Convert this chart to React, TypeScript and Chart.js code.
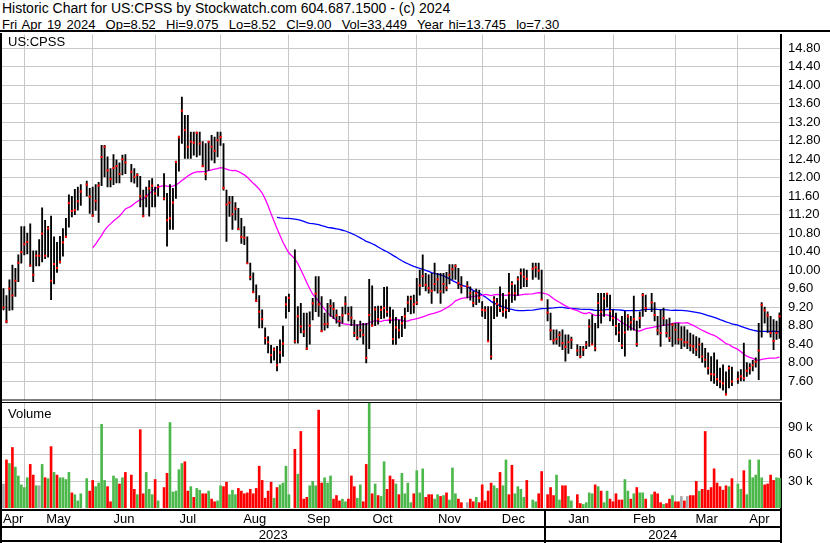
import React, { useEffect, useRef } from 'react';
import { Chart, registerables } from 'chart.js';

Chart.register(...registerables);

const FONT = "'Liberation Sans', Arial, Helvetica, sans-serif";
Chart.defaults.font.family = FONT;

// ---------------- data ----------------
const firstDay = '2023-04-20';
const lastDay = '2024-04-19';

// one entry per weekday; null = market holiday
const highs: (number | null)[] = [
  // Apr 2023
  9.60, 9.45, 9.79, 10.11, 10.04, 10.33, 10.94,
  // May
  10.94, 10.80, 11.00, 10.42, 10.42, 10.66, 11.35, 11.08, 10.95, 11.17, 10.72, 10.60, 10.73, 10.90, 11.12, 11.63, 11.60, 11.75, 11.80, 11.85, null, 11.93, 11.77,
  // Jun
  11.80, 11.85, 11.90, 12.70, 12.70, 12.45, 12.20, 12.50, 12.39, 12.32, 12.49, 12.50, null, 12.29, 12.20, 12.09, 12.03, 11.73, 11.80, 11.94, 11.98, 11.80,
  // Jul
  11.85, null, 12.09, 11.66, 11.85, 11.77, 12.36, 12.90, 13.745, 13.35, 13.35, 12.99, 12.99, 12.99, 12.99, 12.78, 12.74, 12.78, 12.92, 12.88, 12.99,
  // Aug
  12.99, 12.74, 11.73, 11.60, 11.60, 11.46, 11.34, 11.12, 10.94, 10.72, 10.15, 9.94, 9.68, 9.45, 9.14, 8.75, 8.56, 8.37, 8.32, 8.35, 8.49, 8.79, 9.43,
  // Sep
  9.48, null, 10.44, 9.21, 9.28, 9.07, 9.07, 9.10, 9.39, 9.86, 9.86, 9.43, 9.07, 9.28, 9.36, 9.30, 9.14, 9.00, 9.20, 9.43, 9.20,
  // Oct
  9.21, 8.92, 8.82, 8.90, 8.85, 8.85, 9.80, 9.66, 9.21, 9.22, 9.22, 9.63, 9.64, 9.20, 9.14, 8.98, 8.92, 9.00, 9.18, 9.44, 9.44, 9.46,
  // Nov
  9.82, 10.00, 10.33, 9.93, 9.90, 9.93, 10.15, 9.93, 9.93, 9.93, 9.95, 10.12, 10.12, 10.12, 10.04, 9.86, null, 9.75, 9.64, 9.54, 9.59, 9.57,
  // Dec
  9.32, 9.21, 9.21, 9.21, 9.43, 9.39, 9.64, 9.50, 9.36, 9.93, 9.75, 9.68, 9.86, 10.03, 10.03, 10.00, null, 10.15, 10.15, 10.15, 10.00,
  // Jan 2024
  null, 9.36, 9.07, 8.71, 8.71, 8.67, 8.71, 8.60, 8.60, 8.55, null, 8.39, 8.35, 8.35, 8.46, 8.93, 9.03, 8.85, 9.50, 9.50, 9.50, 9.50, 9.46,
  // Feb
  9.14, 9.07, 8.85, 9.00, 9.11, 9.04, 9.00, 9.44, 8.90, 9.10, 9.50, 9.46, null, 9.50, 9.30, 9.00, 9.14, 9.18, 8.93, 8.96, 8.85,
  // Mar
  8.85, 8.85, 8.78, 8.78, 8.71, 8.64, 8.60, 8.56, 8.53, 8.42, 8.31, 8.21, 8.13, 8.21, 8.06, 7.88, 7.95, 7.80, 7.93, 7.90, null,
  // Apr
  7.80, 7.85, 8.42, 8.00, 7.98, 8.05, 8.10, 8.85, 9.30, 9.20, 9.10, 9.00, 8.93, 8.90, 9.075,
];

const lows: (number | null)[] = [
  9.14, 8.86, 9.13, 9.14, 9.43, 9.75, 10.15,
  10.33, 10.35, 10.08, 9.75, 10.09, 10.09, 10.18, 10.25, 10.28, 9.36, 9.70, 9.95, 10.15, 10.30, 10.70, 10.93, 11.15, 11.20, 11.30, 11.40, null, 11.60, 11.23,
  11.16, 11.29, 11.03, 11.83, 12.02, 11.80, 11.80, 11.85, 11.89, 11.89, 12.06, 12.09, null, 11.91, 11.88, 11.80, 11.37, 11.17, 11.37, 11.17, 11.37, 11.37,
  11.60, null, 11.52, 10.52, 10.88, 10.88, 11.55, 12.14, 12.74, 12.42, 12.42, 12.42, 12.49, 12.45, 12.49, 12.24, 11.95, 12.16, 12.38, 12.32, 12.45,
  12.70, 11.73, 10.62, 11.16, 10.88, 11.08, 10.87, 10.58, 10.55, 10.15, 9.79, 9.51, 9.32, 8.75, 8.75, 8.40, 8.21, 7.99, 8.05, 7.82, 7.99, 8.13, 8.96,
  9.10, null, 8.42, 8.42, 8.64, 8.56, 8.28, 8.40, 8.92, 9.10, 9.00, 8.67, 8.70, 8.75, 9.00, 8.95, 8.85, 8.78, 8.85, 9.05, 8.90,
  8.80, 8.56, 8.49, 8.55, 8.40, 7.99, 8.30, 8.79, 8.80, 8.83, 8.95, 8.96, 9.00, 8.85, 8.39, 8.39, 8.53, 8.56, 8.74, 9.10, 9.05, 9.07,
  9.25, 9.46, 9.64, 9.55, 9.50, 9.28, 9.55, 9.50, 9.28, 9.50, 9.55, 9.70, 9.80, 9.80, 9.60, 9.50, null, 9.40, 9.35, 9.21, 9.25, 9.30,
  9.00, 8.95, 8.46, 8.07, 8.95, 9.00, 9.10, 9.00, 8.96, 9.10, 9.30, 9.35, 9.45, 9.60, 9.64, 9.64, null, 9.80, 9.85, 9.80, 9.36,
  null, 8.90, 8.49, 8.40, 8.40, 8.35, 8.28, 8.03, 8.20, 8.30, null, 8.15, 8.10, 8.15, 8.30, 8.35, 8.39, 8.25, 8.75, 8.85, 9.00, 9.20, 8.90,
  8.80, 8.60, 8.45, 8.30, 8.14, 8.70, 8.70, 8.70, 8.35, 8.75, 9.00, 9.10, null, 9.10, 8.90, 8.60, 8.35, 8.80, 8.55, 8.45, 8.35,
  8.40, 8.40, 8.30, 8.35, 8.30, 8.25, 8.20, 8.15, 8.10, 8.00, 7.90, 7.75, 7.60, 7.55, 7.50, 7.45, 7.40, 7.30, 7.45, 7.50, null,
  7.55, 7.60, 7.60, 7.70, 7.75, 7.82, 7.90, 7.63, 8.55, 8.85, 8.65, 8.55, 8.28, 8.50, 8.52,
];

const closes: (number | null)[] = [
  9.19, 8.89, 9.60, 9.45, 9.77, 10.16, 10.39,
  10.56, 10.61, 10.10, 9.90, 10.31, 10.31, 10.79, 10.31, 10.90, 9.77, 10.13, 10.05, 10.18, 10.60, 10.72, 11.45, 11.28, 11.30, 11.49, 11.70, null, 11.85, 11.59,
  11.18, 11.50, 11.83, 12.45, 12.67, 12.16, 11.97, 12.21, 12.25, 12.08, 12.40, 12.33, null, 12.13, 12.02, 12.06, 11.60, 11.17, 11.60, 11.77, 11.83, 11.66,
  11.80, null, 11.55, 11.08, 11.12, 11.46, 12.34, 12.88, 13.45, 13.03, 12.67, 12.78, 12.76, 12.97, 12.74, 12.25, 12.08, 12.78, 12.67, 12.58, 12.81,
  12.88, 11.78, 11.42, 11.46, 11.21, 11.33, 10.89, 10.72, 10.70, 10.15, 9.85, 9.52, 9.34, 9.10, 8.94, 8.53, 8.44, 8.16, 8.28, 7.94, 8.22, 8.41, 9.26,
  9.40, null, 8.46, 9.00, 8.78, 8.67, 8.30, 8.80, 9.28, 9.49, 9.26, 8.68, 8.83, 8.84, 9.22, 9.16, 9.02, 8.90, 9.02, 9.27, 9.05,
  8.97, 8.64, 8.54, 8.70, 8.60, 8.10, 9.03, 8.80, 9.15, 8.94, 9.14, 9.18, 9.10, 8.95, 8.51, 8.76, 8.70, 8.85, 9.00, 9.30, 9.38, 9.26,
  9.30, 9.67, 9.87, 9.68, 9.61, 9.55, 9.70, 9.80, 9.54, 9.70, 9.62, 9.90, 10.02, 10.09, 9.72, 9.65, null, 9.65, 9.50, 9.29, 9.50, 9.40,
  9.14, 9.13, 8.46, 8.13, 9.36, 9.27, 9.18, 9.10, 9.14, 9.50, 9.70, 9.50, 9.80, 9.93, 9.86, 9.81, null, 10.03, 10.06, 9.99, 9.36,
  null, 9.08, 8.70, 8.48, 8.51, 8.60, 8.42, 8.34, 8.44, 8.49, null, 8.26, 8.13, 8.28, 8.39, 8.78, 8.39, 8.31, 9.29, 9.10, 9.39, 9.49, 9.11,
  8.96, 8.79, 8.65, 8.37, 8.65, 9.00, 8.87, 8.94, 8.40, 8.96, 9.46, 9.18, null, 9.30, 9.03, 8.70, 8.64, 8.96, 8.64, 8.53, 8.82,
  8.71, 8.50, 8.50, 8.44, 8.44, 8.37, 8.35, 8.28, 8.39, 8.13, 8.06, 7.88, 7.75, 7.74, 7.64, 7.59, 7.55, 7.31, 7.88, 7.59, null,
  7.64, 7.70, 7.66, 7.82, 7.88, 7.94, 8.02, 8.26, 9.25, 9.13, 9.02, 8.64, 8.47, 8.64, 9.00,
];

const volumes: (number | null)[] = [
  27000, 54000, 50000, 68000, 46000, 36000, 26000,
  23000, 34000, 49000, 37000, 25000, 25000, 49000, 34000, 33000, 69000, 40000, 37000, 34000, 34000, 32000, 40000, 17000, 15000, 8000, 16000, null, 33000, 19000,
  31000, 24000, 28000, 94000, 31000, 24000, 7000, 36000, 33000, 27000, 34000, 40000, null, 37000, 21000, 15000, 88000, 16000, 40000, 21000, 15000, 32000,
  8000, null, 23000, 39000, 96000, 18000, 19000, 43000, 50000, 52000, 19000, 24000, 12000, 22000, 20000, 16000, 16000, 19000, 10000, 7000, 8000,
  25000, 24000, 29000, 15000, 20000, 15000, 22000, 19000, 16000, 17000, 21000, 16000, 22000, 47000, 31000, 11000, 19000, 29000, 11000, 23000, 26000, 28000, 47000,
  15000, null, 66000, 38000, 86000, 10000, 12000, 25000, 30000, 25000, 110000, 28000, 34000, 28000, 36000, 10000, 14000, 8000, 10000, 7000, 10000,
  36000, 24000, 11000, 26000, 7000, 49000, 119000, 16000, 27000, 14000, 13000, 52000, 21000, 36000, 32000, 27000, 15000, 39000, 16000, 28000, 6000, 16000,
  42000, 17000, 44000, 12000, 15000, 15000, 10000, 15000, 13000, 14000, 17000, 9000, 45000, 16000, 10000, 6000, null, 6000, 10000, 7000, 12000, 6000,
  26000, 8000, 19000, 28000, 25000, 22000, 40000, 25000, 54000, 15000, 48000, 16000, 24000, 21000, 12000, 31000, null, 9000, 7000, 16000, 41000,
  null, 15000, 23000, 14000, 37000, 9000, 25000, 25000, 13000, 8000, null, 15000, 5000, 4000, 6000, 17000, 16000, 26000, 24000, 19000, 6000, 19000, 10000,
  7000, 16000, 9000, 9000, 32000, 19000, 10000, 16000, 23000, 17000, 17000, 10000, null, 15000, 18000, 16000, 6000, 4000, 5000, 10000, 14000,
  7000, 7000, 13000, 8000, 13000, 14000, 14000, 30000, 19000, 21000, 86000, 20000, 23000, 44000, 28000, 24000, 20000, 25000, 24000, 33000, null,
  27000, 21000, 42000, 15000, 54000, 34000, 37000, 54000, 34000, 26000, 27000, 37000, 31000, 34000, 33449,
];

// u = close up, d = close down, n = unchanged, - = holiday
const volumeDirection: string[] = [
  'nduduuu',
  'uuddunudud' + 'uduuuuduuu' + '-ud',
  'duuuudduudud' + '-' + 'ddudduuud',
  'u-dduuuuuddu' + 'duudduddu',
  'udduuudddd' + 'dddddddd' + 'uduuu',
  'u-' + 'duddduuudd' + 'uuuddduud',
  'dduuddudud' + 'uuddduduuu' + 'ud',
  'uuuddduudu' + 'duuudd' + '-' + 'nddud',
  'dddduuduud' + 'duuuud' + '-' + 'uudd',
  '-' + 'ddduudduu' + '-' + 'dduuuududuud',
  'dddduududuud' + '-' + 'uddduddu',
  'ddndndddud' + 'ddddddddud' + '-',
  'uuduuuuuudddduu',
];

const priceTicks = [7.6, 8.0, 8.4, 8.8, 9.2, 9.6, 10.0, 10.4, 10.8, 11.2, 11.6, 12.0, 12.4, 12.8, 13.2, 13.6, 14.0, 14.4, 14.8];
const volumeTicks = [30000, 60000, 90000];
const monthLabels = ['Apr', 'May', 'Jun', 'Jul', 'Aug', 'Sep', 'Oct', 'Nov', 'Dec', 'Jan', 'Feb', 'Mar', 'Apr'];
const yearLabels = ['2023', '2024'];

const titleLine = 'Historic Chart for US:CPSS by Stockwatch.com 604.687.1500 - (c) 2024';
const quoteLine = 'Fri Apr 19 2024  Op=8.52  Hi=9.075  Lo=8.52  Cl=9.00  Vol=33,449  Year hi=13.745  lo=7.30';
const symbolLabel = 'US:CPSS';
const volumeLabel = 'Volume';

// ---------------- helpers ----------------
function weekdayDates(from: string, to: string): string[] {
  const out: string[] = [];
  const d = new Date(from + 'T12:00:00Z');
  const end = new Date(to + 'T12:00:00Z');
  while (d <= end) {
    const wd = d.getUTCDay();
    if (wd !== 0 && wd !== 6) out.push(d.toISOString().slice(0, 10));
    d.setUTCDate(d.getUTCDate() + 1);
  }
  return out;
}

const dates = weekdayDates(firstDay, lastDay);

// grid line index for each new month (previous weekday if the 1st falls on a weekend)
const monthStarts: { idx: number; month: string }[] = [];
for (let i = 1; i < dates.length; i++) {
  if (dates[i].slice(5, 7) !== dates[i - 1].slice(5, 7)) {
    const day = Number(dates[i].slice(8, 10));
    monthStarts.push({ idx: day === 1 ? i : i - 1, month: dates[i].slice(5, 7) });
  }
}
const monthTickIdx = monthStarts.map((m) => m.idx);
const yearStartIdx = (monthStarts.find((m) => m.month === '01') || monthStarts[0]).idx;

function movingAverage(vals: (number | null)[], n: number): (number | null)[] {
  const out: (number | null)[] = [];
  const win: number[] = [];
  let sum = 0;
  for (const v of vals) {
    if (v == null) { out.push(null); continue; }
    win.push(v);
    sum += v;
    if (win.length > n) sum -= win.shift() as number;
    out.push(win.length === n ? sum / n : null);
  }
  return out;
}

const ranges = highs.map((h, i) => (h == null || lows[i] == null ? null : [lows[i] as number, h]));
const ma30 = movingAverage(closes, 30);
const ma90 = movingAverage(closes, 90);
const dirs = volumeDirection.join('');

const GRID = '#c8c8c8';
const UP = '#4cb84c';
const DOWN = '#ff0000';
const FLAT = '#a8a8a8';

const xScaleOptions = () => ({
  type: 'category' as const,
  offset: true,
  grid: { display: true, offset: false, color: GRID, lineWidth: 1, drawTicks: false },
  border: { display: false },
  ticks: { display: false },
  afterBuildTicks: (s: any) => { s.ticks = monthTickIdx.map((v) => ({ value: v })); },
  afterFit: (s: any) => { s.height = 0; s.paddingLeft = 0; s.paddingRight = 0; },
});

const yFit = (s: any) => {
  s.width = 49;
  s.paddingTop = 0;
  s.paddingBottom = 0;
};

const pricePlugin = {
  id: 'priceFrame',
  afterDraw(chart: any) {
    const { ctx, chartArea } = chart;
    ctx.save();
    ctx.fillStyle = '#000';
    ctx.fillRect(0, 0, 2, chart.height);
    ctx.fillRect(0, chartArea.bottom, chartArea.right + 1, 1);
    ctx.restore();
  },
};

const volumePlugin = {
  id: 'volumeFrame',
  afterDraw(chart: any) {
    const { ctx, chartArea, scales } = chart;
    const x = scales.x;
    const right = chartArea.right + 1;
    const b = chartArea.bottom;
    ctx.save();
    ctx.fillStyle = '#000';
    ctx.fillRect(0, 0, 2, chart.height);
    ctx.fillRect(0, 1, right, 1);
    ctx.fillRect(0, b + 1, right, 2);
    ctx.fillRect(0, b + 18, right, 2);
    ctx.fillRect(0, b + 32, right, 2);
    ctx.fillRect(chartArea.right - 1, b, 2, chart.height - b);
    const janPx = x.getPixelForValue(yearStartIdx);
    ctx.fillRect(Math.round(janPx) - 1, b + 1, 2, chart.height - b);

    ctx.font = `13px ${FONT}`;
    ctx.textAlign = 'center';
    ctx.textBaseline = 'alphabetic';
    const bounds = [chartArea.left, ...monthTickIdx.map((v) => x.getPixelForValue(v)), chartArea.right];
    monthLabels.forEach((lab, i) => {
      if (i + 1 < bounds.length) ctx.fillText(lab, (bounds[i] + bounds[i + 1]) / 2, b + 14.5);
    });
    const yb = [chartArea.left, janPx, chartArea.right];
    yearLabels.forEach((lab, i) => ctx.fillText(lab, (yb[i] + yb[i + 1]) / 2, b + 31));
    ctx.restore();
  },
};

export default function App() {
  const priceRef = useRef<HTMLCanvasElement>(null);
  const volRef = useRef<HTMLCanvasElement>(null);

  useEffect(() => {
    if (!priceRef.current || !volRef.current) return;
    const tickFont = { size: 13, family: FONT };

    const priceChart = new Chart(priceRef.current, {
      type: 'bar',
      data: {
        labels: dates,
        datasets: [
          {
            type: 'line',
            label: 'Close',
            data: closes,
            showLine: false,
            pointStyle: 'rect',
            pointRadius: 1.5,
            pointHoverRadius: 1.5,
            pointBackgroundColor: '#ff0000',
            pointBorderWidth: 0,
          } as any,
          {
            type: 'bar',
            label: 'High-Low',
            data: ranges as any,
            backgroundColor: '#000000',
            barThickness: 1.2,
            grouped: false,
          } as any,
          {
            type: 'line',
            label: '30 day MA',
            data: ma30,
            borderColor: '#ff00ff',
            borderWidth: 1.3,
            pointRadius: 0,
            spanGaps: true,
            tension: 0,
          } as any,
          {
            type: 'line',
            label: '90 day MA',
            data: ma90,
            borderColor: '#0000ff',
            borderWidth: 1.3,
            pointRadius: 0,
            spanGaps: true,
            tension: 0,
          } as any,
        ],
      },
      options: {
        responsive: false,
        animation: false,
        events: [],
        layout: { padding: { left: 2, top: 1, right: 0, bottom: 1 } },
        plugins: { legend: { display: false }, tooltip: { enabled: false } },
        scales: {
          x: xScaleOptions() as any,
          y: {
            type: 'linear',
            position: 'right',
            min: 7.2,
            max: 15.1,
            afterBuildTicks: (s: any) => { s.ticks = priceTicks.map((v) => ({ value: v })); },
            afterFit: yFit,
            grid: { color: GRID, lineWidth: 1, drawTicks: false },
            border: { display: true, color: '#000', width: 2 },
            ticks: { color: '#000', font: tickFont, padding: 7, callback: (v: any) => Number(v).toFixed(2) },
          } as any,
        },
      },
      plugins: [pricePlugin],
    });

    const volChart = new Chart(volRef.current, {
      type: 'bar',
      data: {
        labels: dates,
        datasets: [
          {
            label: 'Volume',
            data: volumes,
            barThickness: 2,
            backgroundColor: (c: any) => {
              const d = dirs[c.dataIndex];
              return d === 'u' ? UP : d === 'd' ? DOWN : FLAT;
            },
          } as any,
        ],
      },
      options: {
        responsive: false,
        animation: false,
        events: [],
        layout: { padding: { left: 2, top: 2, right: 0, bottom: 35 } },
        plugins: { legend: { display: false }, tooltip: { enabled: false } },
        scales: {
          x: xScaleOptions() as any,
          y: {
            type: 'linear',
            position: 'right',
            min: 0,
            max: 118000,
            afterBuildTicks: (s: any) => { s.ticks = volumeTicks.map((v) => ({ value: v })); },
            afterFit: yFit,
            grid: { color: GRID, lineWidth: 1, drawTicks: false },
            border: { display: true, color: '#000', width: 2 },
            ticks: { color: '#000', font: tickFont, padding: 7, callback: (v: any) => `${Number(v) / 1000} k` },
          } as any,
        },
      },
      plugins: [volumePlugin],
    });

    return () => {
      priceChart.destroy();
      volChart.destroy();
    };
  }, []);

  const text: React.CSSProperties = { position: 'absolute', whiteSpace: 'pre', color: '#000', fontFamily: FONT };

  return (
    <div style={{ position: 'absolute', left: 0, top: 0, width: 830, height: 543, background: '#fff', overflow: 'hidden' }}>
      <div style={{ ...text, left: 2, top: 0, fontSize: 14, lineHeight: '16px' }}>{titleLine}</div>
      <div style={{ ...text, left: 2, top: 16.8, fontSize: 13, lineHeight: '16px', wordSpacing: '1.5px' }}>{quoteLine}</div>
      <div style={{ position: 'absolute', left: 0, top: 30, width: 830, height: 2, background: '#000' }} />
      <canvas ref={priceRef} width={830} height={368} style={{ position: 'absolute', left: 0, top: 33, width: 830, height: 368 }} />
      <canvas ref={volRef} width={830} height={142} style={{ position: 'absolute', left: 0, top: 401, width: 830, height: 142 }} />
      <div style={{ ...text, left: 8, top: 34, fontSize: 13, lineHeight: '15px' }}>{symbolLabel}</div>
      <div style={{ ...text, left: 8, top: 406, fontSize: 13, lineHeight: '15px' }}>{volumeLabel}</div>
    </div>
  );
}
